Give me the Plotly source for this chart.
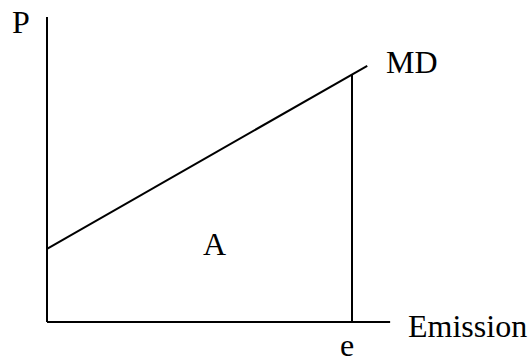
import plotly.graph_objects as go

# Conceptual data (units)
axis_x_end = 11.25      # horizontal axis length
axis_y_end = 10.0       # vertical axis length
e_value = 10.0          # emission level e
md_emission = [0.0, 10.5]   # MD line emission endpoints
md_price = [2.4, 8.4]       # MD line price endpoints

labels = ["P", "MD", "A", "e", "Emission"]
label_x = [-0.84, 11.97, 5.48, 9.84, 13.8]
label_y = [9.82, 8.51, 2.56, -0.74, -0.13]

def md_at(x):
    x0, x1 = md_emission
    y0, y1 = md_price
    return y0 + (y1 - y0) * (x - x0) / (x1 - x0)

line_style = dict(color="black", width=2)
fig = go.Figure()
# axes
fig.add_trace(go.Scatter(x=[0, 0], y=[axis_y_end, 0], mode="lines", line=line_style, hoverinfo="skip"))
fig.add_trace(go.Scatter(x=[0, axis_x_end], y=[0, 0], mode="lines", line=line_style, hoverinfo="skip"))
# MD line
fig.add_trace(go.Scatter(x=md_emission, y=md_price, mode="lines", line=line_style, hoverinfo="skip"))
# vertical at e
fig.add_trace(go.Scatter(x=[e_value, e_value], y=[0, md_at(e_value)], mode="lines", line=line_style, hoverinfo="skip"))

for t, x, y in zip(labels, label_x, label_y):
    fig.add_annotation(x=x, y=y, text=t, showarrow=False, xanchor="center", yanchor="middle",
                       font=dict(family="Liberation Serif", size=32, color="black"))

px_per_unit = 30.5
x0_px, y0_px = 47, 322
W, H = 530, 356
fig.update_layout(
    width=W, height=H, margin=dict(l=0, r=0, t=0, b=0),
    plot_bgcolor="white", paper_bgcolor="white", showlegend=False,
    xaxis=dict(range=[-x0_px / px_per_unit, (W - x0_px) / px_per_unit], visible=False, fixedrange=True),
    yaxis=dict(range=[-(H - y0_px) / px_per_unit, y0_px / px_per_unit], visible=False, fixedrange=True),
)
fig.write_html("out.html", config={"displayModeBar": False},
               post_script="document.body.style.margin='0';document.body.style.overflow='hidden';")
